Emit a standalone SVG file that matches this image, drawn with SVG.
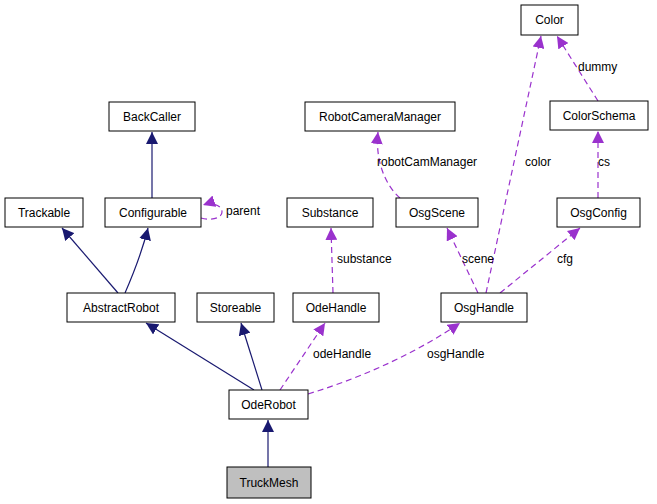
<svg xmlns="http://www.w3.org/2000/svg" width="657" height="504" viewBox="0 0 657 504">
<style>
.n rect{fill:#fff;stroke:#000;stroke-width:1}
text{font-family:"Liberation Sans",Arial,sans-serif;font-size:12px;fill:#000}
.n text{text-anchor:middle}
.s{fill:none;stroke:#191970;stroke-width:1.2}
.d{fill:none;stroke:#9a32cd;stroke-width:1.2;stroke-dasharray:6,4}
</style>
<defs>
<marker id="a" viewBox="0 0 10 10" refX="10" refY="5" markerWidth="12" markerHeight="12" markerUnits="userSpaceOnUse" orient="auto"><path d="M0,0L10,5L0,10z" fill="#191970"/></marker>
<marker id="p" viewBox="0 0 10 10" refX="10" refY="5" markerWidth="12" markerHeight="12" markerUnits="userSpaceOnUse" orient="auto"><path d="M0,0L10,5L0,10z" fill="#9a32cd"/></marker>
</defs>
<rect width="657" height="504" fill="#fff"/>
<g id="edges">
<path class="s" marker-end="url(#a)" d="M152,198L152,132"/>
<path class="d" marker-end="url(#p)" d="M201,218C212,221 222,218 222,212C222,205 212,202 203,205"/>
<path class="s" marker-end="url(#a)" d="M118,293L62,228"/>
<path class="s" marker-end="url(#a)" d="M125,293C135,270 143,248 148,228"/>
<path class="s" marker-end="url(#a)" d="M254,390L146,323"/>
<path class="s" marker-end="url(#a)" d="M262,390L241,323"/>
<path class="s" marker-end="url(#a)" d="M268,467L268,420"/>
<path class="d" marker-end="url(#p)" d="M280,390L325,323"/>
<path class="d" marker-end="url(#p)" d="M308,394C370,375 420,350 460,323"/>
<path class="d" marker-end="url(#p)" d="M333,293L331,228"/>
<path class="d" marker-end="url(#p)" d="M478,293L447,228"/>
<path class="d" marker-end="url(#p)" d="M500,293L580,228"/>
<path class="d" marker-end="url(#p)" d="M486,293L541,36"/>
<path class="d" marker-end="url(#p)" d="M400,198C385,185 375,160 378,132"/>
<path class="d" marker-end="url(#p)" d="M598,198L598,131"/>
<path class="d" marker-end="url(#p)" d="M598,101L557,36"/>
<text x="226" y="215">parent</text>
<text x="313" y="358">odeHandle</text>
<text x="427" y="358">osgHandle</text>
<text x="337" y="263">substance</text>
<text x="462" y="263">scene</text>
<text x="557" y="263">cfg</text>
<text x="525" y="166">color</text>
<text x="377" y="166">robotCamManager</text>
<text x="598" y="166">cs</text>
<text x="578" y="71">dummy</text>
</g>
<g id="Color" class="n"><rect x="521" y="5" width="57" height="30"/><text x="549.5" y="24">Color</text></g>
<g id="BackCaller" class="n"><rect x="109" y="102" width="86" height="29"/><text x="152" y="121">BackCaller</text></g>
<g id="RobotCameraManager" class="n"><rect x="305" y="102" width="150" height="29"/><text x="380" y="121">RobotCameraManager</text></g>
<g id="ColorSchema" class="n"><rect x="550" y="101" width="98" height="29"/><text x="599" y="120">ColorSchema</text></g>
<g id="Trackable" class="n"><rect x="5" y="198" width="78" height="29"/><text x="44" y="217">Trackable</text></g>
<g id="Configurable" class="n"><rect x="105" y="198" width="96" height="29"/><text x="153" y="217">Configurable</text></g>
<g id="Substance" class="n"><rect x="287" y="198" width="86" height="29"/><text x="330" y="217">Substance</text></g>
<g id="OsgScene" class="n"><rect x="396" y="198" width="82" height="29"/><text x="437" y="217">OsgScene</text></g>
<g id="OsgConfig" class="n"><rect x="557" y="198" width="83" height="29"/><text x="598.5" y="217">OsgConfig</text></g>
<g id="AbstractRobot" class="n"><rect x="67" y="293" width="108" height="29"/><text x="121" y="312">AbstractRobot</text></g>
<g id="Storeable" class="n"><rect x="197" y="293" width="77" height="29"/><text x="235.5" y="312">Storeable</text></g>
<g id="OdeHandle" class="n"><rect x="293" y="293" width="86" height="29"/><text x="336" y="312">OdeHandle</text></g>
<g id="OsgHandle" class="n"><rect x="441" y="293" width="86" height="29"/><text x="484" y="312">OsgHandle</text></g>
<g id="OdeRobot" class="n"><rect x="229" y="390" width="79" height="29"/><text x="268.5" y="409">OdeRobot</text></g>
<g id="TruckMesh" class="n"><rect x="227" y="467" width="84" height="31" style="fill:#bfbfbf"/><text x="269" y="487">TruckMesh</text></g>
</svg>
